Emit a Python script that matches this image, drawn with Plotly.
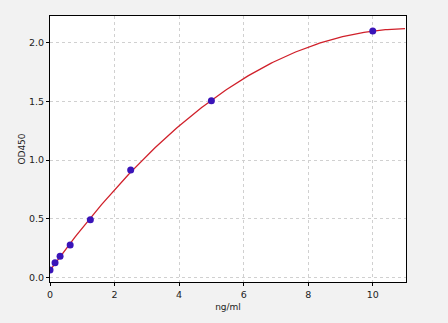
import numpy as np
import plotly.graph_objects as go

conc = [0, 0.156, 0.312, 0.625, 1.25, 2.5, 5, 10]
od = [0.062, 0.125, 0.18, 0.275, 0.49, 0.915, 1.505, 2.10]
x_ticks = [0, 2, 4, 6, 8, 10]
y_ticks = [0.0, 0.5, 1.0, 1.5, 2.0]

coef = np.polyfit(conc, od, 3)
xf = np.linspace(0, 11, 200)
yf = np.polyval(coef, xf)

fig = go.Figure()
fig.add_trace(go.Scatter(x=xf, y=yf, mode="lines",
                         line=dict(color="#d0202a", width=1.3), hoverinfo="skip"))
fig.add_trace(go.Scatter(x=conc, y=od, mode="markers",
                         marker=dict(color="#3a14b8", size=7)))

axis_common = dict(showline=True, linecolor="black", linewidth=1.2, mirror=True,
                   ticks="outside", ticklen=3, tickcolor="black",
                   showgrid=True, gridcolor="#d0d0d0", griddash="dot", gridwidth=1,
                   zeroline=False, tickfont=dict(family="DejaVu Sans", size=9.5, color="#222"),
                   title_font=dict(family="DejaVu Sans", size=9, color="#222"))

fig.update_layout(
    width=448, height=323, showlegend=False,
    paper_bgcolor="#f2f2f2", plot_bgcolor="white",
    margin=dict(l=50, r=42, t=16, b=41),
    xaxis=dict(range=[0, 11.03], tickvals=x_ticks, title=dict(text="ng/ml", standoff=5), **axis_common),
    yaxis=dict(range=[-0.04, 2.228], tickvals=y_ticks, tickformat=".1f",
               title=dict(text="OD450", standoff=1), **axis_common),
)
fig.write_html("out.html")
